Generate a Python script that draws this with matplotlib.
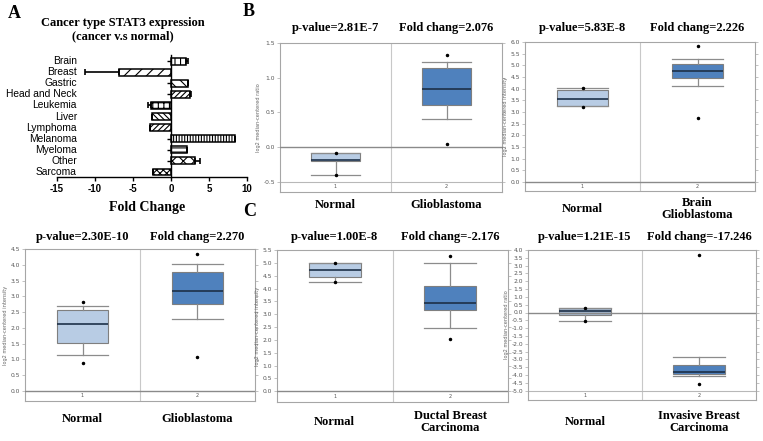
import matplotlib.pyplot as plt
import numpy as np

W, H = 763, 441

# ---- panel A data ----
cancer_types = ["Brain", "Breast", "Gastric", "Head and Neck", "Leukemia", "Liver",
                "Lymphoma", "Melanoma", "Myeloma", "Other", "Sarcoma"]
fold_change = [2.0, -6.9, 2.2, 2.5, -2.6, -2.5, -2.7, 8.4, 2.1, 3.1, -2.4]
fold_err = [0.2, 4.4, 0.1, 0.1, 0.4, 0.0, 0.0, 0.0, 0.0, 0.75, 0.0]
bar_hatches = ["|||", "///", "\\\\\\", "//////", "+++", "\\\\\\\\\\\\",
               "//////", "||||||", "----", "xxx", "xxxxx"]
fc_ticks = [-15, -10, -5, 0, 5, 10]

# ---- panels B/C data: [whisker low, q1, median, q3, whisker high, min dot, max dot] ----
gbm1_normal = [-0.40, -0.20, -0.19, -0.08, -0.08, -0.40, -0.08]
gbm1_tumor = [0.40, 0.61, 0.84, 1.14, 1.22, 0.04, 1.33]
gbm2_normal = [3.25, 3.25, 3.54, 3.93, 4.03, 3.23, 4.02]
gbm2_tumor = [4.12, 4.46, 4.75, 5.05, 5.27, 2.74, 5.81]
gbm3_normal = [1.14, 1.52, 2.13, 2.57, 2.70, 0.89, 2.81]
gbm3_tumor = [2.27, 2.75, 3.16, 3.76, 4.04, 1.07, 4.35]
ductal_normal = [4.27, 4.46, 4.72, 4.98, 4.98, 4.27, 4.98]
ductal_tumor = [2.48, 3.16, 3.42, 4.09, 4.98, 2.02, 5.27]
invasive_normal = [-0.55, -0.13, 0.12, 0.30, 0.30, -0.55, 0.30]
invasive_tumor = [-4.06, -3.94, -3.79, -3.34, -2.83, -4.60, 3.70]

p_values = ["p-value=2.81E-7", "p-value=5.83E-8", "p-value=2.30E-10",
            "p-value=1.00E-8", "p-value=1.21E-15"]
fold_labels = ["Fold chang=2.076", "Fold chang=2.226", "Fold chang=2.270",
               "Fold chang=-2.176", "Fold chang=-17.246"]
tumor_names = ["Glioblastoma", "Brain\nGlioblastoma", "Glioblastoma",
               "Ductal Breast\nCarcinoma", "Invasive Breast\nCarcinoma"]

SERIF = "Liberation Serif"
SANS = "Liberation Sans"
plt.rcParams["hatch.linewidth"] = 0.8


def px_rect(l, t, r, b):
    return [l / W, 1 - b / H, (r - l) / W, (b - t) / H]


fig = plt.figure(figsize=(W / 100, H / 100), dpi=100)

# ---------------- panel A ----------------
ax = fig.add_axes(px_rect(57, 55, 247, 177))
y = np.arange(len(cancer_types))
err_lo = [e if v < 0 else 0 for v, e in zip(fold_change, fold_err)]
err_hi = [e if v > 0 else 0 for v, e in zip(fold_change, fold_err)]
bars = ax.barh(y, fold_change, height=0.62, color="white", edgecolor="black",
               linewidth=1.1, zorder=2)
for b, h in zip(bars, bar_hatches):
    b.set_hatch(h)
ax.errorbar(fold_change, y, xerr=[err_lo, err_hi], fmt="none", ecolor="black",
            elinewidth=1.2, capsize=2.5, capthick=1.2, zorder=3)
ax.set_xlim(-15, 10)
ax.set_ylim(10.45, -0.55)
ax.spines["left"].set_position(("data", 0))
ax.spines["top"].set_visible(False)
ax.spines["right"].set_visible(False)
ax.spines["left"].set_linewidth(1.0)
ax.spines["bottom"].set_linewidth(1.0)
ax.set_yticks(y)
ax.tick_params(axis="y", length=3, width=1.0, labelleft=False)
ax.set_xticks(fc_ticks)
ax.set_xticklabels([str(t) for t in fc_ticks], fontfamily=SANS, fontweight="bold", fontsize=7)
ax.tick_params(axis="x", length=3, width=1.0, pad=2)
for i, name in enumerate(cancer_types):
    ax.text(0.105, i, name, transform=ax.get_yaxis_transform(), ha="right", va="center",
            fontfamily=SANS, fontsize=7.4)
ax.set_xlabel("Fold Change", fontfamily=SERIF, fontweight="bold", fontsize=10, va="center")
ax.xaxis.set_label_coords((147 - 57) / 190, -(207 - 177) / 122)
fig.text(123 / W, 1 - 30 / H, "Cancer type STAT3 expression\n(cancer v.s normal)",
         ha="center", va="center", fontfamily=SERIF, fontweight="bold", fontsize=9,
         linespacing=1.15)


# ---------------- panels B / C ----------------
def box_panel(rect, normal, tumor, ylim, y0, ylabel, pval, fold, tumor_name,
              title_px, label_px, normal_color="#b8cce4"):
    ax = fig.add_axes(px_rect(*rect))
    stats = [dict(whislo=s[0], q1=s[1], med=s[2], q3=s[3], whishi=s[4], fliers=[s[5], s[6]])
             for s in (normal, tumor)]
    bp = ax.bxp(stats, positions=[1, 2], widths=0.45, capwidths=0.45, patch_artist=True,
                boxprops=dict(edgecolor="#7f7f7f", linewidth=0.8),
                medianprops=dict(color="#1d3048", linewidth=1.2),
                whiskerprops=dict(color="#8c8c8c", linewidth=0.9),
                capprops=dict(color="#8c8c8c", linewidth=0.9),
                flierprops=dict(marker="o", markersize=1.5, markerfacecolor="black",
                                markeredgecolor="black", linestyle="none"))
    bp["boxes"][0].set_facecolor(normal_color)
    bp["boxes"][1].set_facecolor("#4f81bd")
    ax.set_xlim(0.5, 2.5)
    ax.set_ylim(*ylim)
    ax.axvline(1.5, color="#c8c8c8", lw=0.8, zorder=1)
    ax.axhline(0, color="#8a8a8a", lw=1.0, zorder=3)
    if y0 != 0:
        ax.axhline(y0, color="#b8b8b8", lw=0.8, zorder=1)
    ax.set_yticks(np.arange(y0, ylim[1] + 0.01, 0.5))
    ax.yaxis.set_major_formatter(plt.FormatStrFormatter("%.1f"))
    ax.set_xticks([])
    ax.tick_params(axis="y", labelsize=4.3, length=2, width=0.5, colors="#aaaaaa",
                   labelcolor="#555555", right=True, pad=1.5)
    for sp in ax.spines.values():
        sp.set_color("#a6a6a6")
        sp.set_linewidth(0.8)
    ax.set_ylabel(ylabel, fontsize=3.6, color="#666666", labelpad=1.5)
    for pos, txt in zip([1, 2], ["1", "2"]):
        ax.text(pos, (ylim[0] + y0) / 2, txt, ha="center", va="center", fontsize=3.6,
                color="#555555")
    for pos, txt in zip([1, 2], [pval, fold]):
        ax.annotate(txt, xy=(pos, 1), xycoords=("data", "axes fraction"),
                    xytext=(0, title_px * 0.72), textcoords="offset points",
                    ha="center", va="center", fontfamily=SERIF, fontweight="bold", fontsize=9)
    for pos, txt in zip([1, 2], ["Normal", tumor_name]):
        ax.annotate(txt, xy=(pos, 0), xycoords=("data", "axes fraction"),
                    xytext=(0, -label_px * 0.72), textcoords="offset points",
                    ha="center", va="center", fontfamily=SERIF, fontweight="bold", fontsize=9,
                    linespacing=1.05)
    return ax


box_panel((280, 43, 502, 192), gbm1_normal, gbm1_tumor, (-0.644, 1.5), -0.5,
          "log2 median-centered ratio", p_values[0], fold_labels[0], tumor_names[0], 15, 13)
box_panel((525, 42, 755, 191), gbm2_normal, gbm2_tumor, (-0.386, 6.0), 0.0,
          "log2 median-centered intensity", p_values[1], fold_labels[1], tumor_names[1], 14, 18)
box_panel((25, 249, 255, 401), gbm3_normal, gbm3_tumor, (-0.317, 4.5), 0.0,
          "log2 median-centered intensity", p_values[2], fold_labels[2], tumor_names[2], 12, 18)
box_panel((277, 250, 508, 402), ductal_normal, ductal_tumor, (-0.42, 5.5), 0.0,
          "log2 median-centered intensity", p_values[3], fold_labels[3], tumor_names[3], 13, 20)
box_panel((528, 250, 756, 400), invasive_normal, invasive_tumor, (-5.6, 4.0), -5.0,
          "log2 median-centered ratio", p_values[4], fold_labels[4], tumor_names[4], 13, 22,
          normal_color="#a3b6cc")

for letter, (lx, ly) in zip(["A", "B", "C"], [(14, 14), (249, 11), (250, 212)]):
    fig.text(lx / W, 1 - ly / H, letter, ha="center", va="center", fontfamily=SERIF,
             fontweight="bold", fontsize=13)

fig.savefig("out.png", dpi=100)
